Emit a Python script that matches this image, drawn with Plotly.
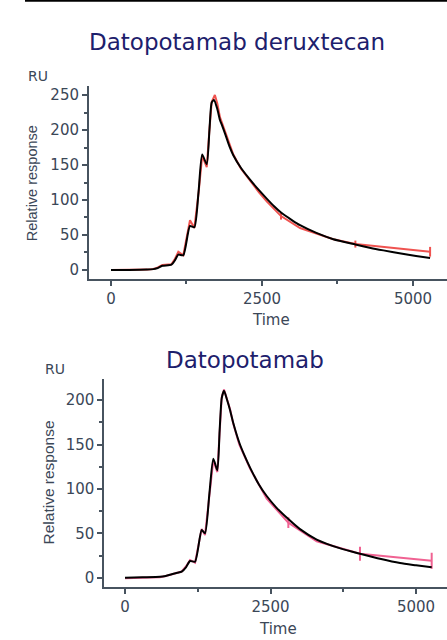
import plotly.graph_objects as go

# ---------------- data: Datopotamab deruxtecan (top) ----------------
fit_time_top = [0, 300, 600, 700, 760, 850, 1000, 1060, 1115, 1197, 1308, 1380, 1450, 1510,
                1585, 1630, 1667, 1706, 1760, 1805, 1833, 1900, 1960, 2025, 2150, 2302, 2450,
                2578, 2700, 2815, 3000, 3130, 3400, 3681, 4046, 4300, 4510, 4800, 5050, 5283]
fit_resp_top = [0, 0, 0.5, 1.2, 2.4, 6, 7.5, 14, 22, 21, 63, 61, 112, 165,
                151, 200, 239, 243, 230, 214, 208, 192, 177, 164, 146, 129, 114,
                102, 91, 82, 71, 64, 53, 44, 36.5, 31.5, 28, 23.5, 20, 17]

data_time_top = [0, 300, 600, 700, 760, 850, 1000, 1060, 1115, 1197, 1308, 1380, 1450, 1510,
                 1585, 1630, 1667, 1720, 1760, 1805, 1900, 2025, 2150, 2302, 2450, 2578,
                 2700, 2815, 3130, 3681, 4046, 5283]
data_resp_top = [0, 0, 0.5, 1.5, 3, 7, 8, 16, 26, 21, 71, 60, 110, 163,
                 147, 200, 240, 250, 238, 218, 195, 165, 145, 127, 111, 98,
                 87, 77, 60, 44, 37, 26]
data_err_top = [0, 0, 0, 0, 0, 0, 0, 0, 0, 0, 0, 0, 0, 0,
                0, 0, 0, 0, 0, 0, 0, 0, 0, 0, 0, 0,
                0, 5, 0, 0, 5, 7]

# ---------------- data: Datopotamab (bottom) ----------------
fit_time_bot = [0, 300, 600, 700, 802, 900, 974, 1050, 1117, 1203, 1317, 1374, 1450, 1517,
                1586, 1625, 1661, 1701, 1750, 1804, 1861, 1964, 2050, 2148, 2300, 2434, 2600,
                2806, 3000, 3293, 3700, 4037, 4400, 4725, 5000, 5269]
fit_resp_bot = [0, 0.5, 1, 2, 3.8, 5.5, 6.8, 12, 18.8, 18, 53.7, 50, 95, 134,
                121, 165, 202, 210.6, 201, 189, 174, 152, 138, 124, 105, 92, 79,
                66, 55, 43, 33, 27, 21, 16.5, 14, 11.7]

data_time_bot = [0, 300, 600, 700, 802, 900, 974, 1050, 1117, 1203, 1317, 1374, 1450, 1517,
                 1586, 1625, 1661, 1701, 1750, 1804, 1861, 1964, 2148, 2434, 2806, 3293,
                 4037, 5269]
data_resp_bot = [-0.5, 0, 0.5, 2, 4, 6, 7, 13, 20, 17, 55, 48, 93, 132,
                 119, 165, 203, 212, 202, 190, 173, 150, 123, 89, 62, 41,
                 27, 19]
data_err_bot = [0, 0, 0, 0, 0, 0, 0, 0, 0, 0, 0, 0, 0, 0,
                0, 0, 0, 0, 0, 0, 0, 0, 0, 0, 6, 0,
                8, 9]

titles = ["Datopotamab deruxtecan", "Datopotamab"]
x_ticks = [0, 2500, 5000]

# ---------------- styling ----------------
W, H = 447, 640
AX = "#47535f"
TXT = "#3b4757"
NAVY = "#1d206c"
RED = "#ef5350"
PINK = "#f06292"

fig = go.Figure()

fig.add_trace(go.Scatter(x=data_time_top, y=data_resp_top, mode="lines",
                         line=dict(color=RED, width=2),
                         error_y=dict(type="data", array=data_err_top, visible=True,
                                      width=0, thickness=2, color=RED),
                         xaxis="x", yaxis="y", showlegend=False))
fig.add_trace(go.Scatter(x=fit_time_top, y=fit_resp_top, mode="lines",
                         line=dict(color="black", width=2, shape="spline", smoothing=0.6),
                         xaxis="x", yaxis="y", showlegend=False))
fig.add_trace(go.Scatter(x=data_time_bot, y=data_resp_bot, mode="lines",
                         line=dict(color=PINK, width=2),
                         error_y=dict(type="data", array=data_err_bot, visible=True,
                                      width=0, thickness=2, color=PINK),
                         xaxis="x2", yaxis="y2", showlegend=False))
fig.add_trace(go.Scatter(x=fit_time_bot, y=fit_resp_bot, mode="lines",
                         line=dict(color="black", width=2, shape="spline", smoothing=0.6),
                         xaxis="x2", yaxis="y2", showlegend=False))


def px_x(p):
    return p / W


def px_y(p):
    return 1 - p / H


tickfont = dict(family="DejaVu Sans", size=15, color=TXT)
common_x = dict(showline=True, linecolor=AX, linewidth=2, showgrid=False, zeroline=False,
                ticks="outside", ticklen=5, tickwidth=1.5, tickcolor=AX,
                tickvals=x_ticks, tickfont=tickfont,
                minor=dict(dtick=1250, tick0=0, ticks="outside", ticklen=3,
                           tickwidth=1.5, tickcolor=AX))
common_y = dict(showline=True, linecolor=AX, linewidth=2, showgrid=False, zeroline=False,
                ticks="outside", ticklen=5, tickwidth=1.5, tickcolor=AX,
                dtick=50, tick0=0, tickfont=tickfont,
                minor=dict(dtick=25, tick0=0, ticks="outside", ticklen=3,
                           tickwidth=1.5, tickcolor=AX))

fig.update_layout(
    width=W, height=H,
    margin=dict(l=0, r=0, t=0, b=0),
    paper_bgcolor="white", plot_bgcolor="white",
    xaxis=dict(domain=[px_x(89), 1], range=[-364, 5563], anchor="y", **common_x),
    yaxis=dict(domain=[px_y(279), px_y(86)], range=[-12.9, 262.9], anchor="x", **common_y),
    xaxis2=dict(domain=[px_x(104.3), 1], range=[-356, 5532], anchor="y2", **common_x),
    yaxis2=dict(domain=[px_y(587.3), px_y(379)], range=[-10.8, 223.8], anchor="x2", **common_y),
    shapes=[dict(type="line", xref="paper", yref="paper", x0=25 / W, x1=1,
                 y0=1 - 0.8 / H, y1=1 - 0.8 / H, line=dict(color="black", width=2))],
)

lab = dict(family="DejaVu Sans", size=14, color=TXT)
ann = [
    dict(text=titles[0], x=px_x(237), y=px_y(42), font=dict(family="DejaVu Sans", size=23, color=NAVY)),
    dict(text=titles[1], x=px_x(245), y=px_y(360), font=dict(family="DejaVu Sans", size=23, color=NAVY)),
    dict(text="RU", x=px_x(38), y=px_y(76), font=lab),
    dict(text="RU", x=px_x(55), y=px_y(369), font=lab),
    dict(text="Relative response", x=px_x(31.5), y=px_y(182.7), textangle=-90,
         font=dict(family="Liberation Sans", size=14.5, color=TXT)),
    dict(text="Relative response", x=px_x(47.5), y=px_y(483), textangle=-90,
         font=dict(family="Liberation Sans", size=15.5, color=TXT)),
    dict(text="Time", x=px_x(270.5), y=px_y(319.5), font=dict(family="DejaVu Sans", size=15, color=TXT)),
    dict(text="Time", x=px_x(278), y=px_y(629), font=dict(family="DejaVu Sans", size=15, color=TXT)),
]
for a in ann:
    a.update(xref="paper", yref="paper", showarrow=False, xanchor="center", yanchor="middle")
fig.update_layout(annotations=ann)

fig.write_html("out.html")
